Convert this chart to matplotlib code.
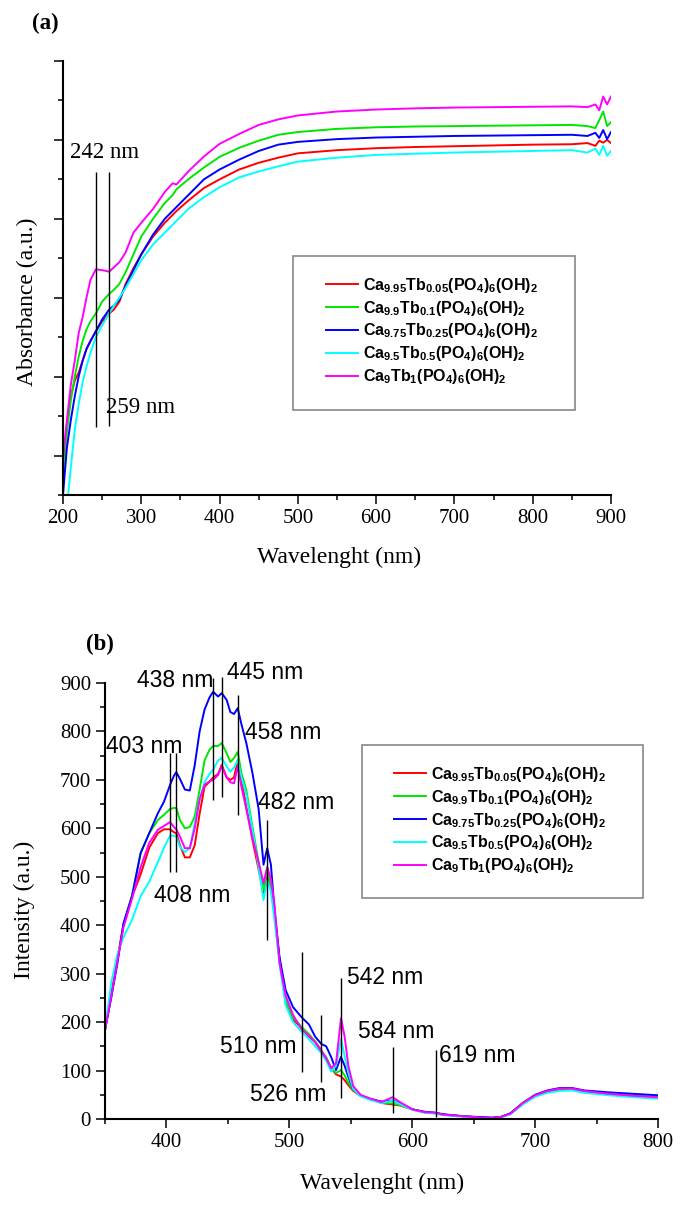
import matplotlib
matplotlib.use('Agg')
import matplotlib.pyplot as plt
from matplotlib.ticker import MultipleLocator, NullFormatter
from matplotlib.patches import Rectangle

plt.rcParams['mathtext.fontset'] = 'custom'
plt.rcParams['mathtext.bf'] = 'Liberation Sans:bold'
plt.rcParams['mathtext.rm'] = 'Liberation Sans'

SERIF = 'Liberation Serif'
SANS = 'Liberation Sans'

labels = [r'$\mathbf{Ca_{9.95}Tb_{0.05}(PO_4)_6(OH)_2}$',
          r'$\mathbf{Ca_{9.9}Tb_{0.1}(PO_4)_6(OH)_2}$',
          r'$\mathbf{Ca_{9.75}Tb_{0.25}(PO_4)_6(OH)_2}$',
          r'$\mathbf{Ca_{9.5}Tb_{0.5}(PO_4)_6(OH)_2}$',
          r'$\mathbf{Ca_9Tb_1(PO_4)_6(OH)_2}$']
colors = ['#ff0000', '#00e600', '#0000ff', '#00ffff', '#ff00ff']

# ---- (a) absorbance ----
wl_a = [200, 205, 210, 215, 220, 225, 230, 235, 242, 250, 259, 265, 272, 280, 290, 300, 315,
        330, 340, 345, 360, 380, 400, 425, 450, 475, 500, 550, 600, 650, 700, 750, 800, 850,
        870, 880, 885, 890, 895, 900]
abs_red = [0.05, 0.18, 0.25, 0.29, 0.31, 0.34, 0.37, 0.39, 0.415, 0.44, 0.46, 0.47, 0.49, 0.535,
           0.575, 0.61, 0.655, 0.69, 0.71, 0.72, 0.746, 0.778, 0.80, 0.825, 0.842, 0.855, 0.866,
           0.874, 0.879, 0.882, 0.884, 0.886, 0.888, 0.889, 0.892, 0.885, 0.898, 0.893, 0.90, 0.892]
abs_green = [0.03, 0.16, 0.24, 0.30, 0.35, 0.39, 0.42, 0.44, 0.46, 0.49, 0.51, 0.52, 0.535, 0.565,
             0.61, 0.655, 0.70, 0.74, 0.76, 0.775, 0.80, 0.83, 0.857, 0.88, 0.898, 0.913, 0.92,
             0.928, 0.932, 0.934, 0.935, 0.936, 0.937, 0.938, 0.935, 0.93, 0.95, 0.972, 0.935, 0.945]
abs_blue = [0.0, 0.12, 0.19, 0.25, 0.30, 0.34, 0.37, 0.39, 0.415, 0.445, 0.47, 0.48, 0.495, 0.53,
            0.57, 0.61, 0.66, 0.70, 0.72, 0.73, 0.76, 0.80, 0.825, 0.85, 0.872, 0.888, 0.895,
            0.902, 0.906, 0.908, 0.910, 0.911, 0.912, 0.913, 0.91, 0.918, 0.905, 0.925, 0.902, 0.92]
abs_cyan = [-0.14, -0.03, 0.07, 0.165, 0.23, 0.285, 0.325, 0.36, 0.40, 0.43, 0.46, 0.48, 0.50,
            0.525, 0.56, 0.595, 0.635, 0.665, 0.685, 0.695, 0.725, 0.755, 0.78, 0.805, 0.82, 0.833,
            0.845, 0.855, 0.862, 0.865, 0.868, 0.870, 0.872, 0.874, 0.868, 0.878, 0.862, 0.885,
            0.86, 0.872]
abs_mag = [0.10, 0.19, 0.28, 0.34, 0.41, 0.45, 0.50, 0.545, 0.572, 0.57, 0.566, 0.577, 0.59, 0.615,
           0.665, 0.69, 0.725, 0.768, 0.79, 0.787, 0.82, 0.858, 0.89, 0.915, 0.938, 0.952, 0.962,
           0.972, 0.977, 0.98, 0.982, 0.983, 0.984, 0.985, 0.983, 0.99, 0.975, 1.01, 0.99, 1.01]
abs_series = [abs_red, abs_green, abs_blue, abs_cyan, abs_mag]

mark_a = [242, 259]
mark_a_lo = [0.172, 0.175]
mark_a_hi = [0.819, 0.819]
mark_a_text = ['242 nm', '259 nm']
mark_a_tx = [253.6, 299.6]
mark_a_ty = [0.867, 0.223]

# ---- (b) emission ----
wl_b = [350, 355, 360, 365, 372, 379, 386, 393, 398, 403, 406, 408, 411, 415, 419, 423, 427, 431,
        435, 438, 442, 445, 449, 452, 455, 458, 461, 465, 470, 475, 479, 482, 485, 488, 492, 497,
        503, 510, 516, 521, 526, 530, 534, 538, 542, 545, 548, 552, 558, 565, 575, 584, 590, 600,
        610, 619, 625, 640, 655, 665, 672, 680, 690, 700, 710, 720, 730, 740, 760, 780, 800]
em_red = [184, 255, 330, 400, 459, 505, 560, 590, 598, 598, 592, 590, 565, 540, 540, 565, 630, 686,
          696, 705, 712, 731, 705, 700, 705, 741, 700, 644, 576, 515, 466, 500, 480, 420, 330, 240,
          205, 188, 170, 160, 142, 125, 105, 92, 88, 80, 70, 58, 48, 42, 33, 30, 28, 20,
          14, 12, 9, 6, 3, 2, 4, 11, 32, 48, 56, 61, 61, 57, 52, 48, 45]
em_green = [184, 252, 325, 400, 462, 549, 590, 617, 628, 640, 642, 642, 617, 600, 603, 624, 680, 740,
            762, 770, 770, 776, 755, 737, 745, 758, 714, 679, 603, 530, 473, 520, 479, 420, 330, 245,
            210, 190, 175, 160, 140, 128, 105, 95, 101, 90, 75, 60, 48, 42, 34, 32, 29, 20,
            14, 12, 9, 6, 3, 2, 4, 11, 33, 49, 58, 63, 62, 58, 53, 50, 47]
em_blue = [184, 250, 320, 404, 460, 549, 590, 631, 655, 690, 708, 716, 702, 680, 678, 730, 800, 845,
           870, 882, 872, 879, 865, 840, 836, 848, 815, 776, 714, 640, 525, 559, 525, 430, 334, 266,
           231, 210, 195, 170, 155, 150, 128, 101, 128, 110, 87, 62, 48, 42, 36, 38, 33, 20,
           15, 13, 10, 6, 4, 3, 4, 12, 33, 50, 59, 64, 64, 59, 55, 52, 49]
em_cyan = [184, 280, 340, 375, 411, 460, 490, 530, 560, 585, 585, 583, 562, 551, 559, 610, 660, 695,
           712, 721, 740, 745, 728, 717, 725, 741, 705, 670, 597, 520, 452, 493, 470, 410, 320, 235,
           200, 180, 165, 150, 136, 120, 98, 110, 165, 130, 95, 62, 47, 40, 33, 38, 31, 19,
           13, 11, 8, 5, 2, 1, 3, 10, 30, 46, 54, 58, 59, 54, 49, 45, 42]
em_mag = [184, 252, 325, 395, 455, 520, 570, 597, 605, 613, 603, 598, 583, 559, 559, 600, 660, 690,
          697, 700, 710, 728, 705, 695, 693, 728, 686, 640, 580, 530, 487, 520, 495, 440, 322, 255,
          215, 185, 172, 158, 140, 125, 105, 115, 208, 170, 110, 68, 50, 43, 35, 45, 35, 20,
          14, 13, 9, 6, 3, 2, 4, 11, 33, 49, 58, 63, 63, 58, 52, 48, 45]
em_series = [em_red, em_green, em_blue, em_cyan, em_mag]

mark_b = [403, 408, 438, 445, 458, 482, 510, 526, 542, 584, 619]
mark_b_lo = [510, 510, 659, 665, 628, 370, 97, 77, 43, 12, 4]
mark_b_hi = [755, 755, 910, 913, 875, 617, 345, 215, 291, 149, 142]
mark_b_text = ['403 nm', '408 nm', '438 nm', '445 nm', '458 nm', '482 nm', '510 nm', '526 nm',
               '542 nm', '584 nm', '619 nm']
mark_b_tx = [382, 421, 407, 480.6, 494.8, 505.8, 475, 499, 578, 586.8, 652.7]
mark_b_ty = [768, 462, 906, 921, 797, 654, 149, 50, 293, 180, 132]

W, H = 687, 1206
fig = plt.figure(figsize=(W / 100, H / 100), dpi=100)


def style_axes(ax):
    for s in ['top', 'right']:
        ax.spines[s].set_visible(False)
    for s in ['left', 'bottom']:
        ax.spines[s].set_linewidth(1.5)
    ax.tick_params(which='major', direction='out', length=6.5, width=1.1, labelsize=15)
    ax.tick_params(which='minor', direction='out', length=3.5, width=1.1)
    for t in ax.get_xticklabels() + ax.get_yticklabels():
        t.set_fontfamily(SERIF)


# panel (a)
ax1 = fig.add_axes([63 / W, 1 - 495 / H, (611 - 63) / W, (495 - 61) / H])
for y, c, lab in zip(abs_series, colors, labels):
    ax1.plot(wl_a, y, color=c, lw=1.4, label=lab)
ax1.vlines(mark_a, mark_a_lo, mark_a_hi, color='black', lw=1.0)
for t, x, y in zip(mark_a_text, mark_a_tx, mark_a_ty):
    ax1.text(x, y, t, ha='center', va='center', fontsize=16.5, family=SERIF)
ax1.set_xlim(200, 900)
ax1.set_ylim(0, 1.1)
ax1.xaxis.set_major_locator(MultipleLocator(100))
ax1.xaxis.set_minor_locator(MultipleLocator(50))
ax1.yaxis.set_major_locator(MultipleLocator(0.2, offset=0.1))
ax1.yaxis.set_minor_locator(MultipleLocator(0.2))
ax1.yaxis.set_major_formatter(NullFormatter())
style_axes(ax1)
ax1.legend(loc='center left', bbox_to_anchor=(318 / W, 1 - 331 / H), bbox_transform=fig.transFigure,
           frameon=False, borderpad=0, handlelength=2.0, handletextpad=0.3, labelspacing=0.25,
           prop={'size': 11.5})
fig.patches.append(Rectangle((293 / W, 1 - 410 / H), 282 / W, 154 / H, transform=fig.transFigure,
                             fill=False, edgecolor='#888888', lw=1.2))
fig.text(45 / W, 1 - 23 / H, '(a)', ha='center', va='center', fontsize=16.5, fontweight='bold', family=SERIF)
fig.text(27 / W, 1 - 302 / H, 'Absorbance (a.u.)', rotation=90, ha='center', va='center',
         fontsize=17, family=SERIF)
fig.text(339 / W, 1 - 557 / H, 'Wavelenght (nm)', ha='center', va='center', fontsize=17, family=SERIF)

# panel (b)
ax2 = fig.add_axes([105 / W, 1 - 1119 / H, (658 - 105) / W, (1119 - 683) / H])
for y, c, lab in zip(em_series, colors, labels):
    ax2.plot(wl_b, y, color=c, lw=1.4, label=lab)
ax2.vlines(mark_b, mark_b_lo, mark_b_hi, color='black', lw=1.0, clip_on=False)
for t, x, y in zip(mark_b_text, mark_b_tx, mark_b_ty):
    ax2.text(x, y, t, ha='center', va='center', fontsize=16.5, family=SANS)
ax2.set_xlim(350, 800)
ax2.set_ylim(0, 900)
ax2.xaxis.set_major_locator(MultipleLocator(100))
ax2.xaxis.set_minor_locator(MultipleLocator(50))
ax2.yaxis.set_major_locator(MultipleLocator(100))
ax2.yaxis.set_minor_locator(MultipleLocator(50))
style_axes(ax2)
ax2.legend(loc='center left', bbox_to_anchor=(386 / W, 1 - 820 / H), bbox_transform=fig.transFigure,
           frameon=False, borderpad=0, handlelength=2.0, handletextpad=0.3, labelspacing=0.25,
           prop={'size': 11.5})
fig.patches.append(Rectangle((362 / W, 1 - 898 / H), 281 / W, 153 / H, transform=fig.transFigure,
                             fill=False, edgecolor='#888888', lw=1.2))
fig.text(100 / W, 1 - 644 / H, '(b)', ha='center', va='center', fontsize=16.5, fontweight='bold', family=SERIF)
fig.text(24 / W, 1 - 910 / H, 'Intensity (a.u.)', rotation=90, ha='center', va='center',
         fontsize=17, family=SERIF)
fig.text(382 / W, 1 - 1183 / H, 'Wavelenght (nm)', ha='center', va='center', fontsize=17, family=SERIF)

fig.savefig('out.png', dpi=100)
